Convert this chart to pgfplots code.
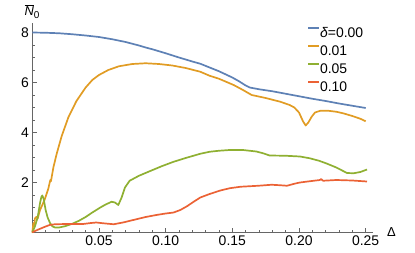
\documentclass[border=0pt]{standalone}
\usepackage{fontspec}
\setmainfont{Liberation Sans}
\usepackage{pgfplots}
\pgfplotsset{compat=1.18}
\definecolor{mblue}{rgb}{0.368417,0.506779,0.709798}
\definecolor{morange}{rgb}{0.880722,0.611041,0.142051}
\definecolor{mgreen}{rgb}{0.560181,0.691569,0.194885}
\definecolor{mred}{rgb}{0.922526,0.385626,0.209179}
\begin{document}
\begin{tikzpicture}
\begin{axis}[
  scale only axis, width=340.7bp, height=209.5bp,
  xmin=0, xmax=0.2555, ymin=0, ymax=8.38,
  axis lines=left, axis line style={-, draw=gray!80!black, line width=0.5bp},
  clip=false,
  xtick={0,0.05,0.10,0.15,0.20,0.25},
  xticklabels={,0.05,0.10,0.15,0.20,0.25},
  ytick={0,2,4,6,8}, yticklabels={,2,4,6,8},
  minor x tick num=4, minor y tick num=3,
  tick align=inside,
  major tick length=4.5bp, minor tick length=2.5bp,
  tick style={draw=gray!80!black, line width=0.5bp},
  tick label style={font=\fontsize{14}{16}\selectfont},
  /pgf/number format/assume math mode=true,
  legend style={at={(rel axis cs:0.806,0.981)}, anchor=north west, draw=none, fill=none,
    inner sep=0pt, font=\fontsize{14}{16}\selectfont, row sep=7.5bp,
    nodes={inner sep=0pt, text height=10bp, text depth=0bp}},
  legend cell align=left,
  legend image code/.code={\draw[#1, line width=2bp] (0bp,4.5bp) -- (11bp,4.5bp);},
]
\addplot[mblue, line width=1.7bp, line join=round] coordinates {(0,8.0)(0.01,7.99)(0.02,7.97)(0.03,7.93)(0.04,7.88)(0.05,7.82)(0.06,7.73)(0.07,7.62)(0.08,7.48)(0.085,7.4)(0.09,7.33)(0.10,7.17)(0.11,7.0)(0.12,6.84)(0.126,6.75)(0.133,6.6)(0.14,6.45)(0.15,6.2)(0.155,6.05)(0.16,5.88)(0.163,5.8)(0.17,5.73)(0.18,5.65)(0.19,5.55)(0.2,5.45)(0.21,5.35)(0.22,5.26)(0.23,5.16)(0.24,5.07)(0.25,4.98)};
\addlegendentry{{\itshape δ}=0.00}
\addplot[morange, line width=1.7bp, line join=round] coordinates {(0,0)(0.0008,0.37)(0.0015,0.3)(0.002,0.57)(0.0033,0.63)(0.004,0.55)(0.0058,0.9)(0.0075,1.1)(0.0095,1.35)(0.012,1.75)(0.0135,2.1)(0.014,2.05)(0.0158,2.6)(0.0183,3.15)(0.022,3.85)(0.027,4.6)(0.033,5.25)(0.04,5.8)(0.045,6.1)(0.05,6.3)(0.057,6.5)(0.065,6.65)(0.075,6.74)(0.085,6.77)(0.095,6.74)(0.105,6.68)(0.115,6.58)(0.126,6.43)(0.133,6.27)(0.14,6.15)(0.151,5.9)(0.158,5.7)(0.1645,5.5)(0.175,5.38)(0.186,5.23)(0.193,5.1)(0.1965,5.0)(0.2,4.8)(0.203,4.45)(0.205,4.28)(0.207,4.4)(0.2095,4.63)(0.212,4.8)(0.216,4.87)(0.222,4.87)(0.228,4.83)(0.233,4.77)(0.24,4.66)(0.246,4.55)(0.25,4.45)};
\addlegendentry{0.01}
\addplot[mgreen, line width=1.7bp, line join=round] coordinates {(0,0)(0.0008,0.1)(0.002,0.25)(0.004,0.6)(0.0058,1.18)(0.0068,1.42)(0.0075,1.48)(0.0085,1.35)(0.010,0.9)(0.0115,0.6)(0.0133,0.38)(0.015,0.25)(0.017,0.2)(0.02,0.2)(0.0245,0.25)(0.03,0.35)(0.035,0.47)(0.04,0.62)(0.045,0.8)(0.051,1.0)(0.055,1.12)(0.0595,1.23)(0.062,1.2)(0.0645,1.1)(0.067,1.4)(0.0695,1.8)(0.073,2.07)(0.08,2.27)(0.088,2.45)(0.097,2.65)(0.106,2.83)(0.115,2.98)(0.126,3.15)(0.133,3.23)(0.14,3.27)(0.148,3.3)(0.158,3.3)(0.168,3.24)(0.173,3.17)(0.178,3.08)(0.19,3.07)(0.2007,3.04)(0.208,2.97)(0.215,2.87)(0.2207,2.76)(0.228,2.6)(0.236,2.38)(0.241,2.37)(0.246,2.42)(0.251,2.52)};
\addlegendentry{0.05}
\addplot[mred, line width=1.7bp, line join=round] coordinates {(0,0)(0.002,0.06)(0.005,0.13)(0.0095,0.23)(0.013,0.3)(0.017,0.33)(0.0258,0.34)(0.038,0.34)(0.044,0.38)(0.048,0.4)(0.053,0.37)(0.061,0.33)(0.068,0.4)(0.0757,0.5)(0.085,0.62)(0.093,0.7)(0.1,0.76)(0.106,0.8)(0.111,0.9)(0.116,1.05)(0.121,1.23)(0.126,1.4)(0.133,1.54)(0.141,1.68)(0.148,1.77)(0.156,1.83)(0.1695,1.87)(0.1795,1.91)(0.186,1.89)(0.191,1.87)(0.1965,1.95)(0.2007,2.0)(0.208,2.05)(0.2157,2.1)(0.2165,2.14)(0.218,2.07)(0.228,2.1)(0.24,2.08)(0.251,2.04)};
\addlegendentry{0.10}
\node[anchor=south, inner sep=0pt, font=\fontsize{13}{15}\selectfont] at ([yshift=4.5bp]rel axis cs:0,1) {$\overline{\mbox{\itshape N}}_{\mbox{\fontsize{10}{11}\selectfont 0}}$};
\node[anchor=west, inner sep=0pt, font=\fontsize{13}{15}\selectfont] at ([xshift=14bp]rel axis cs:1,0) {Δ};
\end{axis}
\path ([shift={(-32.3bp,-20.5bp)}]current axis.origin) rectangle ([shift={(382.7bp,232.5bp)}]current axis.origin);
\end{tikzpicture}
\end{document}
